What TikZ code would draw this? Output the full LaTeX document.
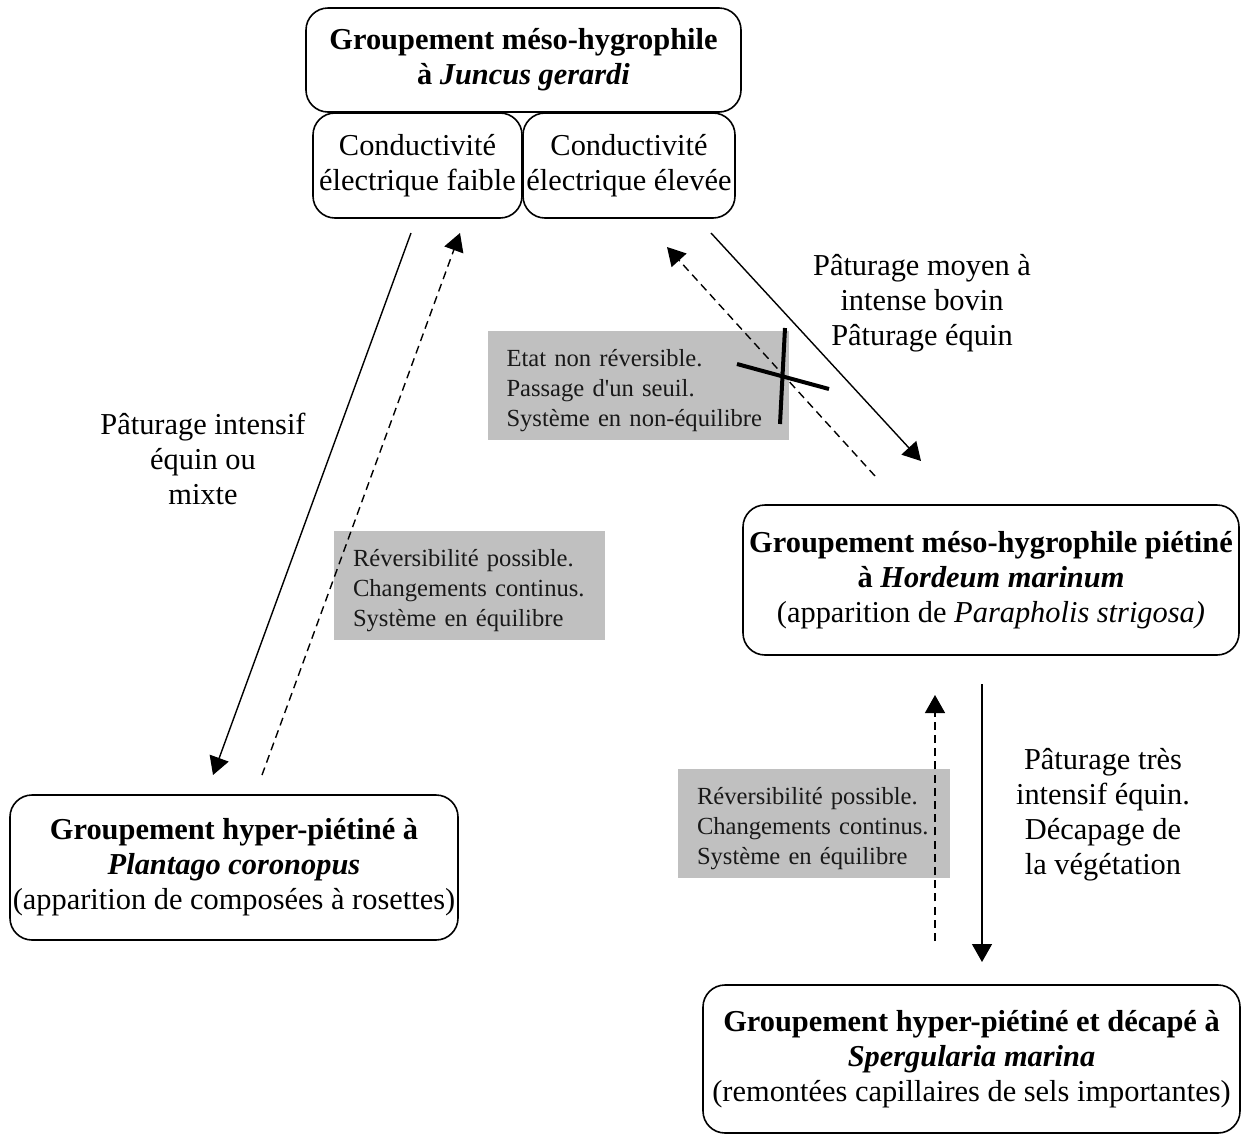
\documentclass[tikz,border=0pt]{standalone}
\usepackage{fontspec}
\setmainfont{Liberation Serif}
\usepackage{xcolor}
\usetikzlibrary{arrows.meta}
\definecolor{notegray}{RGB}{192,192,192}
\newcommand{\bigtxt}{\fontsize{15.2}{17.5}\selectfont}
\newcommand{\smalltxt}{\fontsize{12.3}{15}\selectfont}
\newcommand{\noteindent}{\raggedright\leftskip 9.5pt\relax\rule{0pt}{14pt}}
\tikzset{
  grpbox/.style   = {draw,rounded corners=11pt,line width=0.8pt,align=center,
                     inner sep=0pt,font=\bigtxt},
  notebox/.style  = {fill=notegray,inner sep=0pt,text width=#1,minimum height=54.5pt,
                     font=\smalltxt,text=black!90,execute at begin node={\noteindent}},
  grazelbl/.style = {align=center,font=\bigtxt},
  fwdarr/.style   = {-{Triangle[length=9pt,width=10pt]},line width=0.7pt},
  backarr/.style  = {fwdarr,dash pattern=on 4pt off 2.6pt},
  barrier/.style  = {line width=2pt}
}

\begin{document}
\begin{tikzpicture}[x=0.5pt,y=-0.5pt]
  \useasboundingbox (0,0) rectangle (1242,1136);

  \node[grpbox,minimum width=217.5pt,minimum height=52pt] (juncus) at (523.5,60)
    {\textbf{Groupement méso-hygrophile}\\\textbf{à \textit{Juncus gerardi}}};
  \node[grpbox,minimum width=104.5pt,minimum height=52.5pt] (faible) at (417.5,165.5)
    {Conductivité\\électrique faible};
  \node[grpbox,minimum width=106pt,minimum height=52.5pt] (elevee) at (629,165.5)
    {Conductivité\\électrique élevée};
  \node[grpbox,minimum width=248pt,minimum height=75pt] (hordeum) at (991,580)
    {\textbf{Groupement méso-hygrophile piétiné}\\
     \textbf{à \textit{Hordeum marinum}}\\
     (apparition de \textit{Parapholis strigosa)}};
  \node[grpbox,minimum width=224pt,minimum height=72.5pt] (plantago) at (234,867.5)
    {\textbf{Groupement hyper-piétiné à}\\
     \textbf{\textit{Plantago coronopus}}\\
     (apparition de composées à rosettes)};
  \node[grpbox,minimum width=268.5pt,minimum height=74pt] (spergu) at (971.5,1059)
    {\textbf{Groupement hyper-piétiné et décapé à}\\
     \textbf{\textit{Spergularia marina}}\\
     (remontées capillaires de sels importantes)};

  \node[notebox=150.5pt] (seuil) at (638,385.5)
    {Etat non réversible.\\Passage d\textquotesingle un seuil.\\Système en non-équilibre};
  \node[notebox=135.5pt] (equil1) at (469.5,585.5)
    {Réversibilité possible.\\Changements continus.\\Système en équilibre};
  \node[notebox=136pt] (equil2) at (814,823.5)
    {Réversibilité possible.\\Changements continus.\\Système en équilibre};

  \node[grazelbl] (graze1) at (203,459) {Pâturage intensif\\équin ou\\mixte};
  \node[grazelbl] (graze2) at (922,303) {Pâturage moyen à\\intense bovin\\Pâturage équin};
  \node[grazelbl] (graze3) at (1103,815) {Pâturage très\\intensif équin.\\Décapage de\\la végétation};

  \coordinate (a1s) at (411,233);  \coordinate (a1e) at (213,775);
  \coordinate (b1s) at (262,775);  \coordinate (b1e) at (460,233);
  \coordinate (a2s) at (711,233);  \coordinate (a2e) at (921,461);
  \coordinate (b2s) at (875,476);  \coordinate (b2e) at (667,247);
  \coordinate (a3s) at (982,684);  \coordinate (a3e) at (982,962);
  \coordinate (b3s) at (935,941);  \coordinate (b3e) at (935,695);

  \draw[fwdarr]  (a1s) -- (a1e);
  \draw[backarr] (b1s) -- (b1e);
  \draw[fwdarr]  (a2s) -- (a2e);
  \draw[backarr] (b2s) -- (b2e);
  \draw[fwdarr]  (a3s) -- (a3e);
  \draw[backarr] (b3s) -- (b3e);

  \coordinate (x1) at (737,364);  \coordinate (x2) at (829,389);
  \coordinate (y1) at (785,328);  \coordinate (y2) at (780,424);
  \draw[barrier] (x1) -- (x2);
  \draw[barrier] (y1) -- (y2);
\end{tikzpicture}
\end{document}
